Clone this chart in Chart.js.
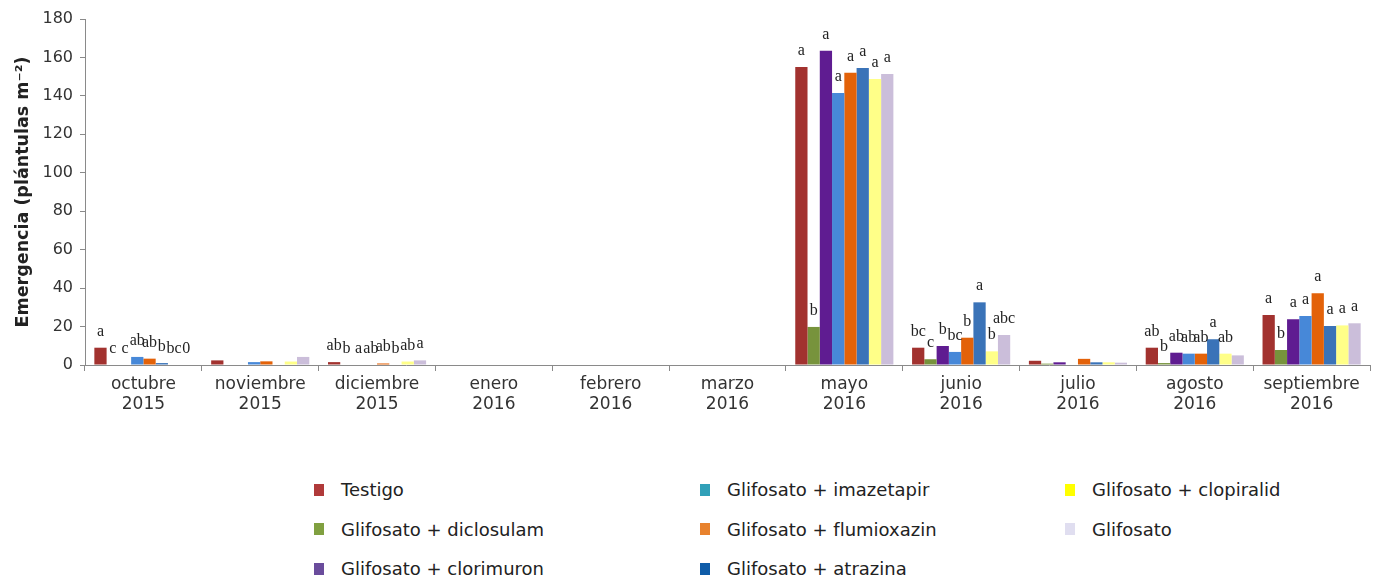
<!DOCTYPE html>
<html lang="es">
<head>
<meta charset="utf-8">
<title>Emergencia</title>
<script src="https://cdn.jsdelivr.net/npm/chart.js@4/dist/chart.umd.min.js"></script>
<style>
  body { margin: 0; background: #fff; font-family: "DejaVu Sans", Verdana, sans-serif; }
  #wrap { position: relative; width: 1378px; height: 578px; }
  #chartBox { position: absolute; left: 0; top: 0; width: 1378px; height: 440px; }
  #leyenda {
    position: absolute; left: 314px; top: 470px;
    display: grid;
    grid-template-columns: 386px 365px auto;
    grid-template-rows: repeat(3, 39.5px);
    grid-auto-flow: column;
    font-size: 18px; color: #222;
  }
  .item { display: flex; align-items: center; }
  .sw { width: 10px; height: 12px; margin-right: 17px; }
</style>
</head>
<body>
<div id="wrap">
  <div id="chartBox"><canvas id="grafico"></canvas></div>
  <div id="leyenda"></div>
</div>
<script>
// Meses (categorías)
const meses = [
  ['octubre', '2015'], ['noviembre', '2015'], ['diciembre', '2015'],
  ['enero', '2016'], ['febrero', '2016'], ['marzo', '2016'],
  ['mayo', '2016'], ['junio', '2016'], ['julio', '2016'],
  ['agosto', '2016'], ['septiembre', '2016']
];

// Emergencia (plántulas m-2) por tratamiento
const testigo     = [9,   2.4, 1.5, 0, 0, 0, 155,   9,    2.2, 9,    26];
const diclosulam  = [0,   0,   0,   0, 0, 0, 19.8,  3,    0.7, 1,    7.8];
const clorimuron  = [0,   0,   0,   0, 0, 0, 163.5, 9.9,  1.4, 6.4,  23.8];
const imazetapir  = [4.2, 1.5, 0,   0, 0, 0, 141.5, 6.8,  0,   5.9,  25.5];
const flumioxazin = [3.3, 1.9, 0.8, 0, 0, 0, 152,   14.2, 3.2, 5.9,  37.3];
const atrazina    = [1,   0,   0,   0, 0, 0, 154.5, 32.6, 1.4, 13.4, 20.3];
const clopiralid  = [0,   1.8, 1.8, 0, 0, 0, 148.8, 7.1,  1.4, 5.9,  20.6];
const glifosato   = [0,   4.2, 2.4, 0, 0, 0, 151.4, 15.6, 1.2, 5,    21.7];

// Letras de significancia sobre cada barra
const letrasTestigo     = ['a',  '', 'ab', '', '', '', 'a', 'bc',  '', 'ab', 'a'];
const letrasDiclosulam  = ['c',  '', 'b',  '', '', '', 'b', 'c',   '', 'b',  'b'];
const letrasClorimuron  = ['c',  '', 'a',  '', '', '', 'a', 'b',   '', 'ab', 'a'];
const letrasImazetapir  = ['ab', '', 'ab', '', '', '', 'a', 'bc',  '', 'ab', 'a'];
const letrasFlumioxazin = ['ab', '', 'ab', '', '', '', 'a', 'b',   '', 'ab', 'a'];
const letrasAtrazina    = ['b',  '', 'b',  '', '', '', 'a', 'a',   '', 'a',  'a'];
const letrasClopiralid  = ['bc', '', 'ab', '', '', '', 'a', 'b',   '', 'ab', 'a'];
const letrasGlifosato   = ['0',  '', 'a',  '', '', '', 'a', 'abc', '', '',   'a'];

const yTicks = [0, 20, 40, 60, 80, 100, 120, 140, 160, 180];

const tratamientos = [
  { label: 'Testigo', data: testigo, letras: letrasTestigo, color: '#A2322F', leyenda: '#B03A3A' },
  { label: 'Glifosato + diclosulam', data: diclosulam, letras: letrasDiclosulam, color: '#77933C', leyenda: '#80A040' },
  { label: 'Glifosato + clorimuron', data: clorimuron, letras: letrasClorimuron, color: '#5F1C91', leyenda: '#6A4C9C' },
  { label: 'Glifosato + imazetapir', data: imazetapir, letras: letrasImazetapir, color: '#4788D8', leyenda: '#31A0B8' },
  { label: 'Glifosato + flumioxazin', data: flumioxazin, letras: letrasFlumioxazin, color: '#E36209', leyenda: '#E8822E' },
  { label: 'Glifosato + atrazina', data: atrazina, letras: letrasAtrazina, color: '#3A73B8', leyenda: '#0F5CA8' },
  { label: 'Glifosato + clopiralid', data: clopiralid, letras: letrasClopiralid, color: '#FFFF88', leyenda: '#FFFF00' },
  { label: 'Glifosato', data: glifosato, letras: letrasGlifosato, color: '#CBBEDA', leyenda: '#E0DEF0' }
];

// Plugin para dibujar las letras encima de las barras
const letrasPlugin = {
  id: 'letras',
  afterDatasetsDraw(chart) {
    const ctx = chart.ctx;
    ctx.save();
    ctx.font = '16px "Liberation Serif", "Times New Roman", serif';
    ctx.fillStyle = '#222';
    ctx.textAlign = 'center';
    ctx.textBaseline = 'alphabetic';
    chart.data.datasets.forEach((ds, i) => {
      const meta = chart.getDatasetMeta(i);
      meta.data.forEach((bar, j) => {
        const txt = ds.letras[j];
        if (txt) ctx.fillText(txt, bar.x, bar.y - 12);
      });
    });
    ctx.restore();
  }
};

function initGrafico() {
  const ctx = document.getElementById('grafico');
  new Chart(ctx, {
    type: 'bar',
    data: {
      labels: meses,
      datasets: tratamientos.map(t => ({
        label: t.label,
        data: t.data,
        letras: t.letras,
        backgroundColor: t.color,
        borderWidth: 0,
        categoryPercentage: 0.84,
        barPercentage: 1.0
      }))
    },
    options: {
      responsive: true,
      maintainAspectRatio: false,
      animation: false,
      layout: { padding: { top: 19, right: 8, left: 0, bottom: 0 } },
      plugins: {
        legend: { display: false },
        tooltip: { enabled: false }
      },
      scales: {
        x: {
          grid: { display: true, drawOnChartArea: false, drawTicks: true, tickLength: 6, color: '#8a8a8a', offset: true },
          border: { color: '#8a8a8a' },
          ticks: { color: '#333', font: { family: 'DejaVu Sans', size: 17 }, padding: 3, maxRotation: 0, autoSkip: false },
          afterFit(scale) { scale.height = 75; }
        },
        y: {
          min: 0,
          max: 180,
          afterBuildTicks(scale) { scale.ticks = yTicks.map(v => ({ value: v })); },
          grid: { display: true, drawOnChartArea: false, drawTicks: true, tickLength: 5, color: '#8a8a8a' },
          border: { color: '#8a8a8a' },
          ticks: { color: '#333', font: { family: 'DejaVu Sans', size: 16 }, padding: 7 },
          title: {
            display: true,
            text: 'Emergencia (plántulas m⁻²)',
            color: '#222',
            font: { family: 'DejaVu Sans', size: 17.5, weight: 'bold' },
            padding: { top: 13, bottom: 4 }
          },
          afterFit(scale) { scale.width = 85; }
        }
      }
    },
    plugins: [letrasPlugin]
  });
}

// Leyenda en tres filas, ordenada por columnas
function initLeyenda() {
  const cont = document.getElementById('leyenda');
  tratamientos.forEach(t => {
    const item = document.createElement('div');
    item.className = 'item';
    item.innerHTML = `<span class="sw" style="background:${t.leyenda}"></span><span>${t.label}</span>`;
    cont.appendChild(item);
  });
}

document.addEventListener('DOMContentLoaded', function() {
  initGrafico();
  initLeyenda();
});
</script>
</body>
</html>
